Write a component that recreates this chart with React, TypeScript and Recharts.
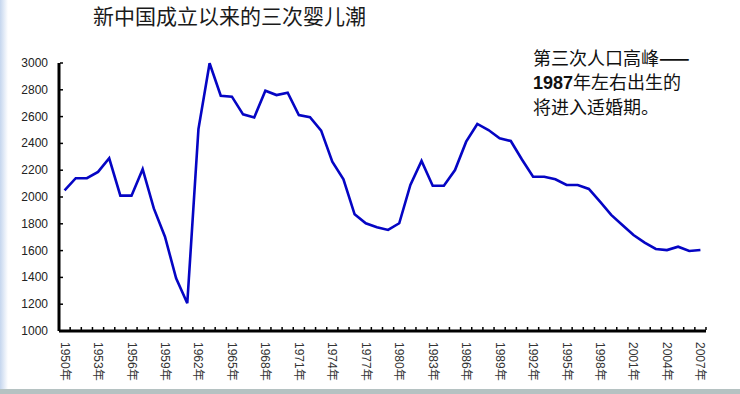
import React from "react";
import { LineChart, Line, XAxis, YAxis } from "recharts";

const YEARS: string[] = [
  "1950", "1951", "1952", "1953", "1954", "1955", "1956", "1957", "1958", "1959",
  "1960", "1961", "1962", "1963", "1964", "1965", "1966", "1967", "1968", "1969",
  "1970", "1971", "1972", "1973", "1974", "1975", "1976", "1977", "1978", "1979",
  "1980", "1981", "1982", "1983", "1984", "1985", "1986", "1987", "1988", "1989",
  "1990", "1991", "1992", "1993", "1994", "1995", "1996", "1997", "1998", "1999",
  "2000", "2001", "2002", "2003", "2004", "2005", "2006", "2007",
];

const BIRTHS: number[] = [
  2050, 2140, 2140, 2187, 2289, 2010, 2010, 2207, 1915, 1704,
  1393, 1207, 2507, 2998, 2756, 2749, 2617, 2594, 2793, 2761,
  2778, 2612, 2595, 2495, 2263, 2132, 1871, 1804, 1774, 1754,
  1804, 2090, 2269, 2084, 2084, 2201, 2413, 2545, 2500, 2438,
  2418, 2280, 2151, 2151, 2132, 2090, 2090, 2060, 1965, 1866,
  1791, 1716, 1659, 1612, 1604, 1629, 1597, 1604,
];

const Y_TICKS: number[] = [1000, 1200, 1400, 1600, 1800, 2000, 2200, 2400, 2600, 2800, 3000];

const TITLE = "新中国成立以来的三次婴儿潮";
const NOTE_LINE1 = "第三次人口高峰";
const NOTE_DASH = "——";
const NOTE_BOLD = "1987";
const NOTE_LINE2 = "年左右出生的";
const NOTE_LINE3 = "将进入适婚期。";

const data = YEARS.map((y, i) => ({ year: y, value: BIRTHS[i] }));

const W = 740;
const H = 394;
const Y_AXIS_W = 59;
const MARGIN_RIGHT = 34;
const PLOT_W = W - Y_AXIS_W - MARGIN_RIGHT;
const HALF_BAND = PLOT_W / YEARS.length / 2;

const FONT = "'Liberation Sans', Arial, 'Noto Sans CJK SC', sans-serif";
const CJK = "'Noto Sans CJK SC', 'Liberation Sans', sans-serif";

const XTick = (props: any) => {
  const { x, y, payload, index } = props;
  const show = index % 3 === 0;
  const isLast = index === YEARS.length - 1;
  return (
    <g>
      <line x1={x - HALF_BAND} x2={x - HALF_BAND} y1={y - 1} y2={y - 4} stroke="#000" strokeWidth={1.5} />
      {isLast && (
        <line x1={x + HALF_BAND} x2={x + HALF_BAND} y1={y - 1} y2={y - 4} stroke="#000" strokeWidth={1.5} />
      )}
      {show && (
        <text
          x={x}
          y={y + 11}
          transform={`rotate(90 ${x} ${y + 11})`}
          textAnchor="start"
          dominantBaseline="central"
          fontSize={12}
          fill="#333"
          fontFamily={FONT}
        >
          {payload.value + "年"}
        </text>
      )}
    </g>
  );
};

const YTick = (props: any) => {
  const { x, y, payload } = props;
  return (
    <g>
      <line x1={x + 1} x2={x + 4} y1={y} y2={y} stroke="#000" strokeWidth={1.5} />
      <text
        x={x - 11}
        y={y}
        textAnchor="end"
        dominantBaseline="central"
        fontSize={12}
        fill="#222"
        fontFamily={FONT}
      >
        {payload.value}
      </text>
    </g>
  );
};

const noteLine: React.CSSProperties = {
  position: "absolute",
  left: 533,
  fontSize: 18,
  lineHeight: "18px",
  height: 18,
  fontFamily: CJK,
  color: "#111",
  whiteSpace: "nowrap",
};

export default function App() {
  return (
    <div
      style={{
        position: "absolute",
        left: 0,
        top: 0,
        width: W,
        height: H,
        background: "#fff",
        overflow: "hidden",
      }}
    >
      <div
        style={{
          position: "absolute",
          left: 0,
          top: 0,
          width: 8,
          height: H,
          background: "linear-gradient(to right, #c5d6ee, #ffffff)",
        }}
      />
      <div
        style={{
          position: "absolute",
          left: 0,
          top: 389,
          width: W,
          height: H - 389,
          background: "#b5c2c2",
        }}
      />
      <div style={{ position: "absolute", left: 0, top: 0 }}>
        <LineChart
          width={W}
          height={H}
          data={data}
          margin={{ top: 63, right: MARGIN_RIGHT, bottom: 0, left: 0 }}
        >
          <XAxis
            dataKey="year"
            interval={0}
            tickSize={0}
            tickMargin={0}
            tickLine={false}
            height={63}
            padding={{ left: HALF_BAND, right: HALF_BAND }}
            axisLine={{ stroke: "#000", strokeWidth: 3 }}
            tick={<XTick />}
          />
          <YAxis
            domain={[1000, 3000]}
            ticks={Y_TICKS}
            width={Y_AXIS_W}
            interval={0}
            tickSize={0}
            tickMargin={0}
            tickLine={false}
            axisLine={{ stroke: "#000", strokeWidth: 3 }}
            tick={<YTick />}
          />
          <Line
            type="linear"
            dataKey="value"
            stroke="#0505c4"
            strokeWidth={2.6}
            dot={false}
            isAnimationActive={false}
          />
        </LineChart>
      </div>
      <div
        style={{
          position: "absolute",
          left: 93,
          top: 4,
          fontSize: 21,
          lineHeight: "22px",
          fontFamily: CJK,
          color: "#1a1a1a",
          whiteSpace: "nowrap",
        }}
      >
        {TITLE}
      </div>
      <div style={{ ...noteLine, top: 48 }}>
        {NOTE_LINE1}
        <span style={{ fontWeight: "bold" }}>{NOTE_DASH}</span>
      </div>
      <div style={{ ...noteLine, top: 72 }}>
        <span style={{ fontFamily: FONT, fontWeight: "bold" }}>{NOTE_BOLD}</span>
        {NOTE_LINE2}
      </div>
      <div style={{ ...noteLine, top: 97 }}>{NOTE_LINE3}</div>
    </div>
  );
}
